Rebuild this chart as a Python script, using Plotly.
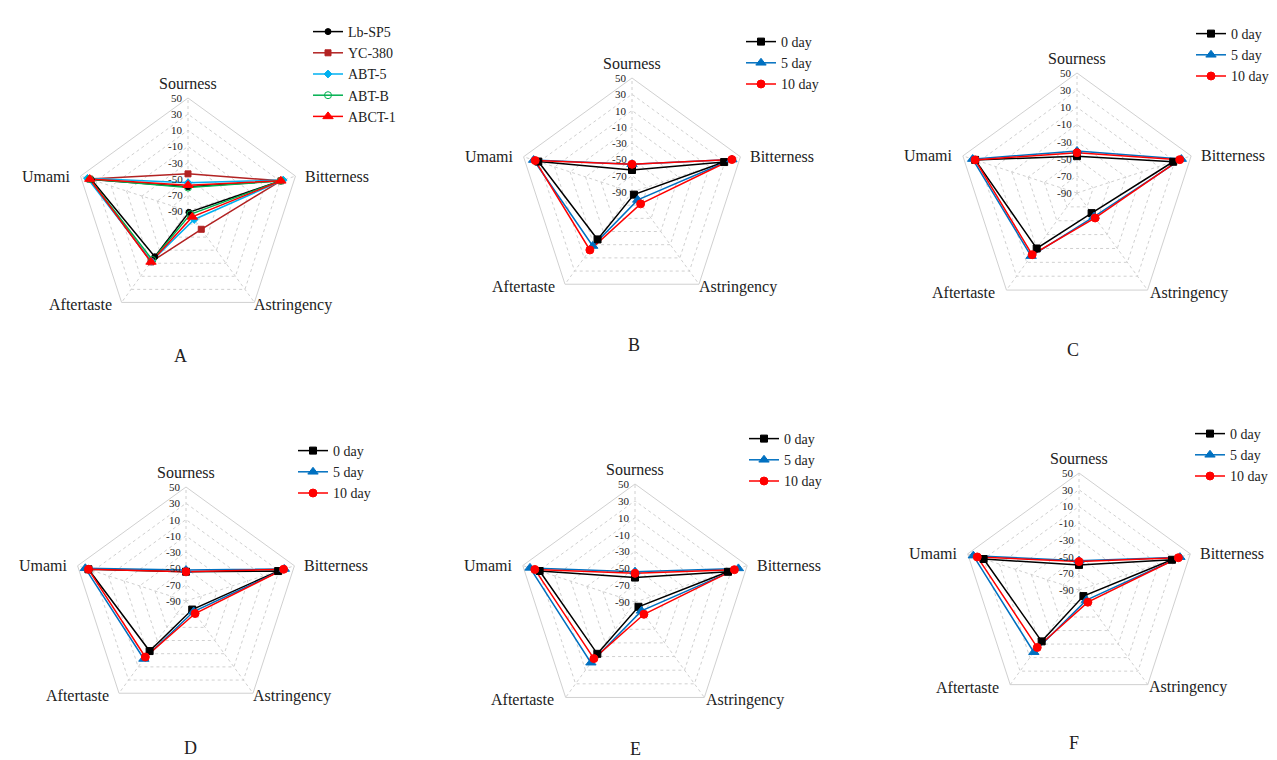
import plotly.graph_objects as go

attrs = ["Sourness", "Bitterness", "Astringency", "Aftertaste", "Umami"]
rticks = list(range(-90, 51, 20))

# Panel A (strains)
A_names = ["Lb-SP5", "YC-380", "ABT-5", "ABT-B", "ABCT-1"]
A_vals = {
    "Lb-SP5": [-60, 31, -88, -20, 36],
    "YC-380": [-44, 31, -62, -12, 38],
    "ABT-5": [-55, 34, -77, -13, 41],
    "ABT-B": [-61, 31, -85, -15, 38],
    "ABCT-1": [-58, 31, -81, -12, 38],
}
days = ["0 day", "5 day", "10 day"]
B_vals = {"0 day": [-63, 29, -86, -18, 31], "5 day": [-56, 39, -78, -8, 37], "10 day": [-56, 39, -72, -2, 35]}
C_vals = {"0 day": [-47, 28, -61, -10, 35], "5 day": [-41, 38, -56, 1, 38], "10 day": [-43, 36, -54, -1, 35]}
D_vals = {"0 day": [-54, 29, -77, -14, 36], "5 day": [-52, 37, -74, -2, 40], "10 day": [-54, 36, -71, -5, 36]}
E_vals = {"0 day": [-61, 26, -83, -14, 29], "5 day": [-54, 39, -77, -1, 41], "10 day": [-56, 34, -72, -7, 35]}
F_vals = {"0 day": [-60, 27, -81, -14, 30], "5 day": [-55, 37, -75, 2, 43], "10 day": [-56, 35, -72, -5, 38]}

A_style = {
    "Lb-SP5": ("black", "circle", 6),
    "YC-380": ("#b22222", "square", 6),
    "ABT-5": ("#00b0f0", "diamond", 6),
    "ABT-B": ("#00b050", "circle-open", 7),
    "ABCT-1": ("#ff0000", "triangle-up", 9),
}
D_style = {
    "0 day": ("black", "square", 7),
    "5 day": ("#0070c0", "triangle-up", 9),
    "10 day": ("#ff0000", "circle", 8),
}

W, H = 1277, 760
panels = [
    ("A", 180, 203, 113, A_vals, A_names, A_style, (172, 348), (300, 8)),
    ("B", 624, 184, 114, B_vals, days, D_style, (626, 337), (733, 18)),
    ("C", 1069, 185, 120, C_vals, days, D_style, (1065, 342), (1183, 10)),
    ("D", 178, 593, 114, D_vals, days, D_style, (182, 740), (285, 427)),
    ("E", 627, 594, 118, E_vals, days, D_style, (627, 741), (736, 415)),
    ("F", 1071, 582, 117, F_vals, days, D_style, (1066, 735), (1182, 410)),
]

font = "Liberation Serif"
fig = go.Figure()
layout = dict(width=W, height=H, margin=dict(l=0, r=0, t=0, b=0),
              paper_bgcolor="white", plot_bgcolor="white", annotations=[])

def ann(text, px, py, xa="center", ya="middle", size=16):
    layout["annotations"].append(dict(text=text, x=px / W, y=1 - py / H, xref="paper", yref="paper",
                                      showarrow=False, xanchor=xa, yanchor=ya,
                                      font=dict(family=font, size=size, color="#222")))

def dom(x0, x1, y0, y1):
    return dict(x=[x0 / W, x1 / W], y=[1 - y1 / H, 1 - y0 / H])

for i, (lab, cx, cy, R, vals, names, style, labpos, legpos) in enumerate(panels):
    pk = f"polar{2*i+1}" if i > 0 else "polar"
    mk = f"polar{2*i+2}"
    lk = "legend" if i == 0 else f"legend{i+1}"
    for n in names:
        c, sym, sz = style[n]
        v = vals[n]
        fig.add_trace(go.Scatterpolar(
            r=v + v[:1], theta=attrs + attrs[:1], name=n, mode="lines+markers",
            line=dict(color=c, width=1.5),
            marker=dict(symbol=sym, size=sz, color=c, line=dict(color=c, width=1)),
            subplot=pk, legend=lk))
        fig.add_trace(go.Scatterpolar(
            r=v, theta=attrs, name=n, mode="markers", showlegend=False, cliponaxis=False,
            marker=dict(symbol=sym, size=sz, color=c, line=dict(color=c, width=1)),
            subplot=mk))
    d = dom(cx - R, cx + R, cy - R, cy + R)
    layout[pk] = dict(
        domain=d, gridshape="linear", bgcolor="white",
        radialaxis=dict(range=[-90, 50], tickvals=rticks, angle=90, showticklabels=False,
                        showline=False, ticks="", gridcolor="#d0d0d0", griddash="dot"),
        angularaxis=dict(direction="clockwise", rotation=90, gridcolor="#d0d0d0", griddash="dot",
                         categoryorder="array", categoryarray=attrs, showticklabels=False,
                         linecolor="#d0d0d0", showline=True, ticks=""),
    )
    layout[mk] = dict(
        domain=d, gridshape="circular", bgcolor="rgba(0,0,0,0)",
        radialaxis=dict(range=[-90, 50], visible=False),
        angularaxis=dict(direction="clockwise", rotation=90, categoryorder="array", categoryarray=attrs,
                         showgrid=False, showline=False, showticklabels=False, ticks=""),
    )
    layout[lk] = dict(x=legpos[0] / W, y=1 - legpos[1] / H, xanchor="left", yanchor="top",
                      font=dict(family=font, size=14, color="#222"), bgcolor="rgba(0,0,0,0)",
                      tracegroupgap=2, itemwidth=30)
    for t in rticks:
        ann(str(t), cx - 3, cy - R * (t + 90) / 140, xa="right", size=11)
    ann(attrs[0], cx, cy - R - 4, ya="bottom")
    ann(attrs[1], cx + 0.951 * R + 8, cy - 0.309 * R, xa="left")
    ann(attrs[2], cx + 0.93 * R, cy + 0.83 * R)
    ann(attrs[3], cx - 0.95 * R, cy + 0.83 * R)
    ann(attrs[4], cx - 0.951 * R - 8, cy - 0.309 * R, xa="right")
    ann(lab, labpos[0], labpos[1], size=18)
fig.update_layout(**layout)
fig.write_html("out.html")
